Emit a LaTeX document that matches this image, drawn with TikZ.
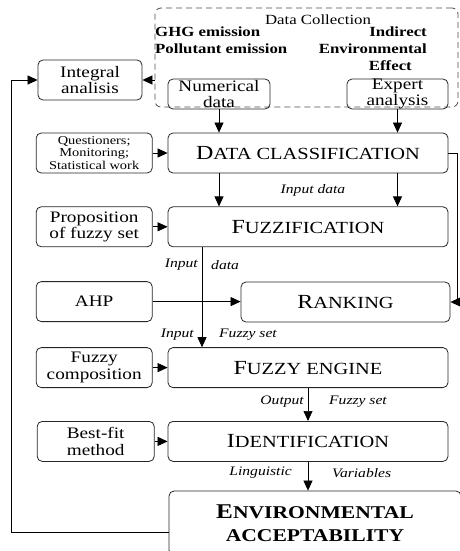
\documentclass[tikz,border=0pt]{standalone}
\usepackage{fontspec}
\setmainfont[FakeStretch=1.2]{Liberation Serif}
\usetikzlibrary{arrows.meta,positioning,calc}
\newcommand{\fakesc}[2]{{\fontsize{20}{22}\selectfont #1}{\fontsize{17}{18}\selectfont #2}}
\newcommand{\bigsc}[2]{{\fontsize{21}{23}\selectfont #1}{\fontsize{18}{23}\selectfont #2}}

\begin{document}
\begin{tikzpicture}[
  x=1pt, y=-1pt,
  every node/.style={font=\fontsize{16}{16.5}\selectfont},
  mainbox/.style={draw=black!85, rounded corners=5pt, line width=0.8pt,
                  minimum width=280pt, minimum height=40pt, align=center, inner sep=0pt},
  sidebox/.style={draw=black!85, rounded corners=5pt, line width=0.8pt,
                  minimum width=116pt, minimum height=40pt, align=center, inner sep=0pt},
  lbl/.style={font=\fontsize{13}{15}\selectfont\itshape, inner sep=0pt},
  arr/.style={-{Triangle[length=10pt,width=9pt]}, line width=0.7pt},
  node distance=15pt
]
\useasboundingbox (0,0) rectangle (460,551);
\clip (0,0) rectangle (460,551);

% data collection
\node[draw=black!70, dash pattern=on 6pt off 4pt, rounded corners=6pt, line width=0.8pt,
      minimum width=303pt, minimum height=99pt, inner sep=0pt] (collect) at (306.5,57.5) {};
\node[font=\fontsize{14}{17}\selectfont] (colltitle) at (318,20) {Data Collection};
\node[font=\fontsize{14}{17}\selectfont\bfseries, align=left, anchor=north west, inner sep=0pt]
  (ghg) at (155,27) {GHG emission\\Pollutant emission};
\node[font=\fontsize{14}{17}\selectfont\bfseries, align=right, anchor=north east, inner sep=0pt]
  (indirect) at (427,27) {Indirect\\Environmental\\Effect\hspace*{15pt}};
\node[sidebox, minimum width=102pt, minimum height=30pt,
      label={[name=numtext, align=center, font=\fontsize{16}{16}\selectfont]center:Numerical\\data}]
  (numdata) at (219,94) {};
\node[sidebox, minimum width=101pt, minimum height=30pt,
      label={[name=exptext, align=center, font=\fontsize{16}{16}\selectfont]center:Expert\\analysis}]
  (expert) at (397.5,94) {};

% main chain
\node[mainbox] (dclass) at (308,153) {\fakesc{D}{ATA CLASSIFICATION}};
\node[mainbox, below=33pt of dclass] (fuzz) {\fakesc{F}{UZZIFICATION}};
\node[mainbox, minimum width=209pt] (rank) at (345.5,302) {\fakesc{R}{ANKING}};
\node[mainbox, below=100pt of fuzz] (engine) {\fakesc{F}{UZZY ENGINE}};
\node[mainbox, below=33pt of engine] (ident) {\fakesc{I}{DENTIFICATION}};
\node[mainbox, minimum width=292pt, minimum height=64pt,
      font=\bfseries\fontsize{18}{23}\selectfont] (envacc) at (315,523)
  {\bigsc{E}{NVIRONMENTAL}\\\bigsc{}{ACCEPTABILITY}};

% side boxes
\node[sidebox, minimum width=104pt] (integral) at (90,80) {Integral\\analisis};
\node[sidebox, left=15pt of dclass, font=\fontsize{12}{12.5}\selectfont] (quest)
  {Questioners;\\Monitoring;\\Statistical work};
\node[sidebox, left=15pt of fuzz] (propfs) {Proposition\\of fuzzy set};
\node[sidebox, below=34pt of propfs] (ahp) {AHP};
\node[sidebox, left=15pt of engine] (fcomp) {Fuzzy\\composition};
\node[sidebox, left=13pt of ident, minimum width=117pt] (bestfit) {Best-fit\\method};

% connectors
\draw[arr] (numdata.south) -- (numdata.south |- dclass.north);
\draw[arr] (expert.south) -- (expert.south |- dclass.north);
\draw[arr] (dclass.south -| numdata) -- (fuzz.north -| numdata);
\draw[arr] (dclass.south -| expert) -- (fuzz.north -| expert);
\node[lbl] (lblinput) at ($(dclass.south)!0.5!(fuzz.north)$) [xshift=5pt] {Input data};

\coordinate (fx) at (202,0);
\draw[arr] (fuzz.south -| fx) -- (engine.north -| fx);
\node[lbl, anchor=east] (lblin1) at (198,265) {Input};
\node[lbl, anchor=west] (lbldata) at (211,265) {data};
\node[lbl, anchor=east] (lblin2) at (194,335) {Input};
\node[lbl, anchor=west] (lblfs1) at (219,335) {Fuzzy set};

\draw[arr] (ahp.east) -- (ahp.east -| rank.west);
\draw[arr] (dclass.east) -- ++(9,0) |- (rank.east);

\draw[arr] (engine.south) -- (ident.north);
\node[lbl, anchor=east] (lblout) at (304,402) {Output};
\node[lbl, anchor=west] (lblfs2) at (329,402) {Fuzzy set};
\draw[arr] (ident.south) -- (ident.south |- envacc.north);
\node[lbl, anchor=east] (lblling) at (292,473) {Linguistic};
\node[lbl, anchor=west] (lblvar) at (332,473) {Variables};

\draw[arr] ([yshift=-9pt]envacc.west) -- ++(-157,0) |- (integral.west);
\draw[arr] (collect.west |- integral) -- (integral.east);
\draw[arr] (quest) -- (dclass);
\draw[arr] (propfs) -- (fuzz);
\draw[arr] (fcomp) -- (engine);
\draw[arr] (bestfit) -- (ident);
\end{tikzpicture}
\end{document}
